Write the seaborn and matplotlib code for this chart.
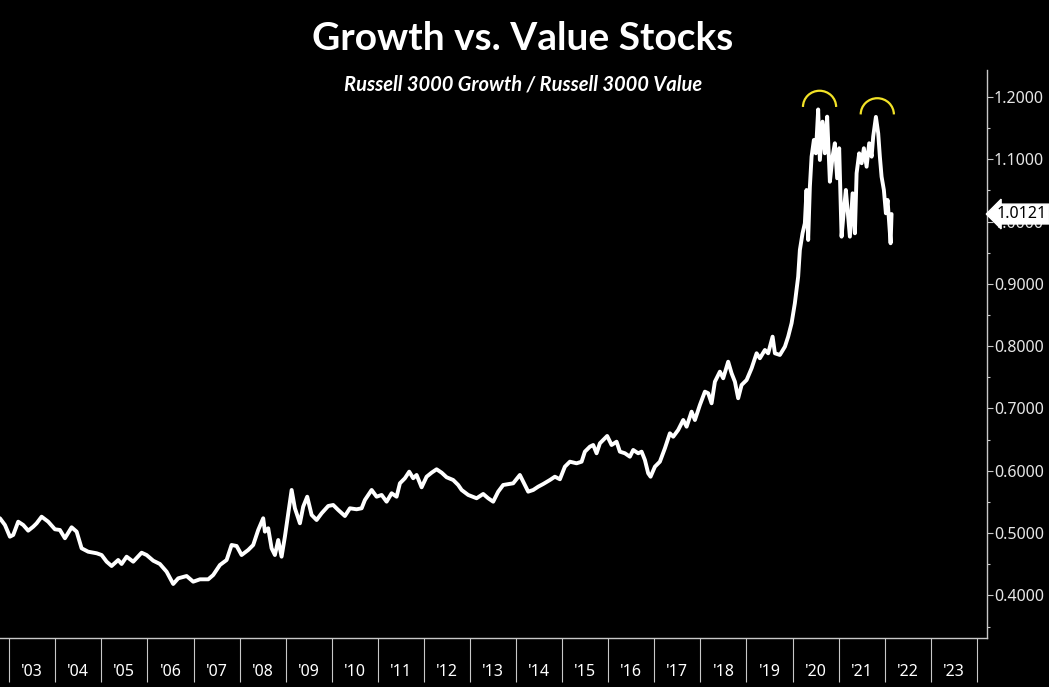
import numpy as np
import pandas as pd
import matplotlib
matplotlib.use('Agg')
import matplotlib.pyplot as plt
from matplotlib.patches import Arc
from matplotlib.ticker import FixedLocator, FuncFormatter, MultipleLocator
import seaborn as sns

# fractional year / growth-to-value ratio
years = [
    2002.798, 2002.907, 2003.015, 2003.087, 2003.195, 2003.304, 2003.412, 2003.521, 2003.595, 2003.703,
    2003.846, 2003.992, 2004.100, 2004.209, 2004.354, 2004.463, 2004.571, 2004.714, 2004.897, 2005.005,
    2005.114, 2005.222, 2005.365, 2005.439, 2005.548, 2005.691, 2005.873, 2005.982, 2006.125, 2006.270,
    2006.416, 2006.559, 2006.668, 2006.850, 2006.993, 2007.139, 2007.319, 2007.427, 2007.573, 2007.718,
    2007.826, 2007.935, 2008.043, 2008.187, 2008.295, 2008.332, 2008.404, 2008.512, 2008.549, 2008.621,
    2008.694, 2008.766, 2008.838, 2008.911, 2008.983, 2009.055, 2009.129, 2009.200, 2009.309, 2009.380,
    2009.467, 2009.563, 2009.671, 2009.780, 2009.923, 2010.031, 2010.140, 2010.285, 2010.394, 2010.539,
    2010.648, 2010.719, 2010.865, 2010.973, 2011.082, 2011.190, 2011.299, 2011.407, 2011.479, 2011.587,
    2011.681, 2011.767, 2011.841, 2011.950, 2012.058, 2012.167, 2012.275, 2012.384, 2012.492, 2012.635,
    2012.744, 2012.818, 2012.961, 2013.143, 2013.286, 2013.395, 2013.503, 2013.612, 2013.720, 2013.937,
    2014.082, 2014.154, 2014.263, 2014.372, 2014.480, 2014.589, 2014.734, 2014.842, 2014.951, 2015.059,
    2015.168, 2015.313, 2015.422, 2015.493, 2015.602, 2015.674, 2015.747, 2015.819, 2015.891, 2015.977,
    2016.073, 2016.181, 2016.253, 2016.362, 2016.470, 2016.542, 2016.650, 2016.724, 2016.796, 2016.867,
    2016.919, 2017.013, 2017.121, 2017.230, 2017.338, 2017.410, 2017.518, 2017.627, 2017.701, 2017.809,
    2017.881, 2017.989, 2018.098, 2018.170, 2018.243, 2018.315, 2018.423, 2018.495, 2018.603, 2018.677,
    2018.749, 2018.820, 2018.894, 2019.003, 2019.111, 2019.220, 2019.291, 2019.400, 2019.471, 2019.567,
    2019.617, 2019.725, 2019.834, 2019.905, 2019.979, 2020.050, 2020.122, 2020.159, 2020.217, 2020.267,
    2020.303, 2020.339, 2020.376, 2020.413, 2020.463, 2020.506, 2020.556, 2020.593, 2020.651, 2020.701,
    2020.751, 2020.810, 2020.868, 2020.918, 2020.968, 2021.012, 2021.064, 2021.114, 2021.157, 2021.207,
    2021.244, 2021.303, 2021.353, 2021.390, 2021.446, 2021.499, 2021.548, 2021.607, 2021.663, 2021.716,
    2021.750, 2021.809, 2021.859, 2021.895, 2021.932, 2021.982, 2022.026, 2022.062, 2022.097, 2022.128,
    2022.149,
]
ratio = [
    0.5238, 0.5130, 0.4942, 0.4970, 0.5183, 0.5130, 0.5039, 0.5103, 0.5157, 0.5263,
    0.5183, 0.5061, 0.5050, 0.4917, 0.5093, 0.5023, 0.4756, 0.4701, 0.4676, 0.4648,
    0.4541, 0.4472, 0.4568, 0.4504, 0.4621, 0.4541, 0.4685, 0.4648, 0.4557, 0.4504,
    0.4380, 0.4183, 0.4274, 0.4311, 0.4220, 0.4258, 0.4258, 0.4327, 0.4488, 0.4568,
    0.4809, 0.4793, 0.4648, 0.4729, 0.4809, 0.4889, 0.5050, 0.5238, 0.5023, 0.5077,
    0.4756, 0.4648, 0.4889, 0.4621, 0.4942, 0.5318, 0.5692, 0.5398, 0.5157, 0.5424,
    0.5584, 0.5291, 0.5210, 0.5318, 0.5435, 0.5451, 0.5371, 0.5274, 0.5398, 0.5382,
    0.5398, 0.5531, 0.5692, 0.5584, 0.5612, 0.5504, 0.5639, 0.5584, 0.5799, 0.5880,
    0.5986, 0.5880, 0.5933, 0.5735, 0.5905, 0.5970, 0.6024, 0.5970, 0.5896, 0.5852,
    0.5772, 0.5692, 0.5612, 0.5559, 0.5628, 0.5559, 0.5504, 0.5665, 0.5772, 0.5799,
    0.5933, 0.5825, 0.5665, 0.5692, 0.5745, 0.5788, 0.5852, 0.5905, 0.5864, 0.6066,
    0.6146, 0.6120, 0.6146, 0.6307, 0.6387, 0.6414, 0.6281, 0.6441, 0.6494, 0.6559,
    0.6414, 0.6467, 0.6307, 0.6281, 0.6226, 0.6334, 0.6281, 0.6307, 0.6173, 0.5960,
    0.5905, 0.6066, 0.6146, 0.6361, 0.6602, 0.6547, 0.6655, 0.6815, 0.6708, 0.6949,
    0.6815, 0.7056, 0.7270, 0.7244, 0.7083, 0.7430, 0.7591, 0.7485, 0.7751, 0.7565,
    0.7430, 0.7164, 0.7377, 0.7457, 0.7645, 0.7886, 0.7806, 0.7939, 0.7886, 0.8153,
    0.7886, 0.7859, 0.7992, 0.8153, 0.8368, 0.8689, 0.9116, 0.9544, 0.9812, 0.9973,
    1.0507, 0.9705, 1.0560, 1.1042, 1.1310, 1.1096, 1.1800, 1.0989, 1.1604, 1.1096,
    1.1684, 1.0640, 1.1042, 1.1257, 1.0695, 1.1177, 0.9758, 1.0186, 1.0507, 1.0079,
    0.9758, 1.0454, 0.9812, 1.0775, 1.1096, 1.0936, 1.1177, 1.0881, 1.1257, 1.1042,
    1.1363, 1.1680, 1.1417, 1.1042, 1.0721, 1.0507, 1.0133, 1.0347, 0.9973, 0.9652,
    1.0121,
]
year_labels = ["'%02d" % (y % 100) for y in range(2003, 2024)]
title = 'Growth vs. Value Stocks'
subtitle = 'Russell 3000 Growth / Russell 3000 Value'

df = pd.DataFrame({'year': years, 'ratio': ratio})

sns.set_theme(style='dark', rc={
    'figure.facecolor': 'black', 'axes.facecolor': 'black',
    'savefig.facecolor': 'black', 'axes.edgecolor': '#c8c8c8',
})
plt.rcParams['font.family'] = ['Noto Sans', 'DejaVu Sans']

fig = plt.figure(figsize=(10.49, 6.87), dpi=100)
ax = fig.add_axes([0.0, 1 - 638 / 687, 987 / 1049, (638 - 70) / 687])

sns.lineplot(data=df, x='year', y='ratio', color='white', lw=2.8, ax=ax)

ax.set_xlim(2002.80, 2024.22)
ax.set_ylim(0.3316, 1.2433)
ax.set_xlabel(''); ax.set_ylabel('')

for s in ['left', 'top']:
    ax.spines[s].set_visible(False)
for s in ['right', 'bottom']:
    ax.spines[s].set_color('#c8c8c8')
    ax.spines[s].set_linewidth(1.0)

# year separators as long major ticks, labels centred on minor ticks
ax.xaxis.set_major_locator(FixedLocator(np.arange(2003, 2025)))
ax.xaxis.set_major_formatter(FuncFormatter(lambda v, p: ''))
ax.set_xticks(np.arange(2003, 2024) + 0.5, year_labels, minor=True)
ax.tick_params(axis='x', which='major', direction='out', length=32, width=0.8,
               color='#c8c8c8', bottom=True)
ax.tick_params(axis='x', which='minor', length=0, pad=19, labelsize=11.5,
               labelcolor='white', bottom=True)

ax.yaxis.tick_right()
ax.yaxis.set_major_locator(MultipleLocator(0.1))
ax.yaxis.set_minor_locator(MultipleLocator(0.05))
ax.yaxis.set_major_formatter(FuncFormatter(lambda v, p: f'{v:.4f}'))
ax.tick_params(axis='y', which='major', direction='out', length=4, width=0.8,
               color='#c8c8c8', labelsize=11.5, labelcolor='#e6e6e6', pad=1, right=True)
ax.tick_params(axis='y', which='minor', direction='out', length=2.5, width=0.8,
               color='#c8c8c8', right=True)
ax.grid(False)

# yellow arcs over the two tops
yr = np.array(years); rt = np.array(ratio)
for lo, hi in [(2020.0, 2021.0), (2021.4, 2022.2)]:
    m = (yr >= lo) & (yr < hi)
    i = np.argmax(rt[m])
    px, pv = yr[m][i], rt[m][i]
    ax.add_patch(Arc((px + 0.03, pv + 0.004), 0.72, 0.052, theta1=0, theta2=180,
                     color='#f2e227', lw=1.6, zorder=5))

# last value flag (covers most of the 1.0000 label, as in the source)
ax.annotate(f'{ratio[-1]:.4f}', xy=(1.0, ratio[-1]), xycoords=('axes fraction', 'data'),
            xytext=(7, 0), textcoords='offset points', ha='left', va='center',
            fontsize=11.5, color='black', zorder=10, annotation_clip=False,
            bbox=dict(boxstyle='larrow,pad=0.12', fc='white', ec='white'))

fig.text(0.4986, 1 - 38 / 687, title, ha='center', va='center', color='white',
         fontsize=28, fontweight='bold', family=['Lato', 'DejaVu Sans'])
fig.text(0.4986, 1 - 85 / 687, subtitle, ha='center', va='center', color='white',
         fontsize=14.5, fontweight='bold', fontstyle='italic', family=['Lato', 'DejaVu Sans'])

fig.savefig('out.png', dpi=100, facecolor='black')
